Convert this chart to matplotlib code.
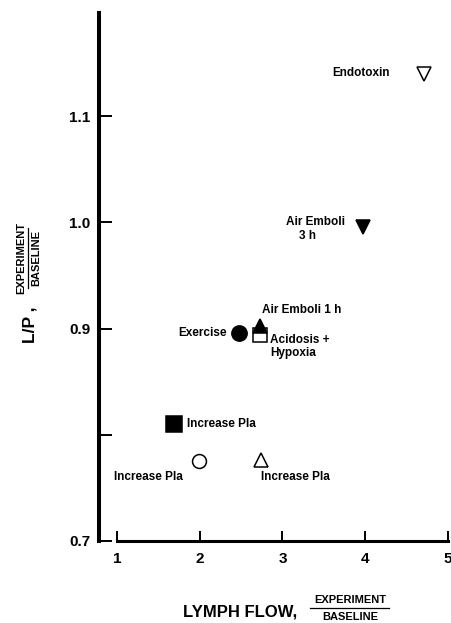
import numpy as np
import matplotlib
matplotlib.use("Agg")
import matplotlib.pyplot as plt
from matplotlib.lines import Line2D

plt.rcParams['font.family'] = ['Liberation Sans', 'DejaVu Sans']
plt.rcParams['font.weight'] = 'bold'

# values (experiment / baseline)
labels = ["Endotoxin", "Air Emboli\n    3 h", "Air Emboli 1 h", "Acidosis +\nHypoxia",
          "Exercise", "Increase Pla", "Increase Pla", "Increase Pla"]
lymph_flow = [4.71, 3.97, 2.73, 2.73, 2.47, 1.69, 1.99, 2.74]
lp_ratio = [1.14, 0.996, 0.902, 0.894, 0.896, 0.810, 0.775, 0.776]

xticks = [1, 2, 3, 4, 5]
yticks = [0.7, 0.8, 0.9, 1.0, 1.1]
yticklabels = ["0.7", "", "0.9", "1.0", "1.1"]

# marker style per point: (marker, filled, size)
styles = [("v", False, 10), ("v", True, 10.5), ("^", True, 9.5), ("s", False, 10),
          ("o", True, 11), ("s", True, 11), ("o", False, 10), ("^", False, 10)]
# label offsets in points, alignment
offsets = [(-24.5, 0.7, "right"), (-13, -1.8, "right"), (1.5, 11.5, "left"),
           (7, -8.3, "left"), (-8.3, 0, "right"), (9, 0, "left"),
           (-11.5, -11.2, "right"), (0, -11.9, "left")]

W, H = 451, 623
fig = plt.figure(figsize=(W / 100, H / 100), dpi=100)
ax = fig.add_axes([99 / W, 1 - 541 / H, (448 - 99) / W, 528 / H])

# square first so the 1 h triangle sits over it
order = [3, 0, 1, 2, 4, 5, 6, 7]
for i in order:
    m, filled, s = styles[i]
    ax.plot(lymph_flow[i], lp_ratio[i], marker=m, markersize=s,
            markerfacecolor="black" if filled else "white",
            markeredgecolor="black", markeredgewidth=1.1, linestyle="none",
            clip_on=False, zorder=3)

for i in range(len(labels)):
    dx, dy, ha = offsets[i]
    ax.annotate(labels[i], (lymph_flow[i], lp_ratio[i]), xytext=(dx, dy),
                textcoords="offset points", ha=ha, va="center", ma="left",
                fontsize=8.5, fontweight="bold", linespacing=1.15)

ax.set_xlim(1 - 18 / 82.8, 5.0)
ax.set_ylim(0.7, 1.197)
ax.set_xticks(xticks)
ax.set_xticklabels([str(t) for t in xticks])
ax.set_yticks(yticks)
ax.set_yticklabels(yticklabels)

for side in ["top", "right"]:
    ax.spines[side].set_visible(False)
ax.spines["left"].set_linewidth(2.9)
ax.spines["bottom"].set_linewidth(2.2)
ax.spines["bottom"].set_bounds(1, 5)
ax.tick_params(axis="y", direction="in", length=9, width=1.4, pad=6, labelsize=11)
ax.tick_params(axis="x", direction="in", length=7.5, width=1.4, pad=8, labelsize=11)
for lab in ax.get_xticklabels() + ax.get_yticklabels():
    lab.set_fontweight("bold")

# axis titles drawn by hand (fraction style)
fig.text(240 / W, 1 - 612 / H, "LYMPH FLOW,", ha="center", va="center",
         fontsize=12, fontweight="bold")
fig.text(350 / W, 1 - 600 / H, "EXPERIMENT", ha="center", va="center",
         fontsize=8, fontweight="bold")
fig.text(350 / W, 1 - 617 / H, "BASELINE", ha="center", va="center",
         fontsize=8, fontweight="bold")
fig.add_artist(Line2D([310 / W, 389 / W], [1 - 607.5 / H, 1 - 607.5 / H],
                      transform=fig.transFigure, color="black", lw=0.9))

fig.text(30 / W, 1 - 325 / H, "L/P ,", ha="center", va="center", rotation=90,
         fontsize=12.5, fontweight="bold")
fig.text(21 / W, 1 - 258 / H, "EXPERIMENT", ha="center", va="center", rotation=90,
         fontsize=8, fontweight="bold")
fig.text(36 / W, 1 - 258 / H, "BASELINE", ha="center", va="center", rotation=90,
         fontsize=8, fontweight="bold")
fig.add_artist(Line2D([27.5 / W, 27.5 / W], [1 - 228 / H, 1 - 288 / H],
                      transform=fig.transFigure, color="black", lw=0.9))

fig.savefig("out.png", dpi=100)
